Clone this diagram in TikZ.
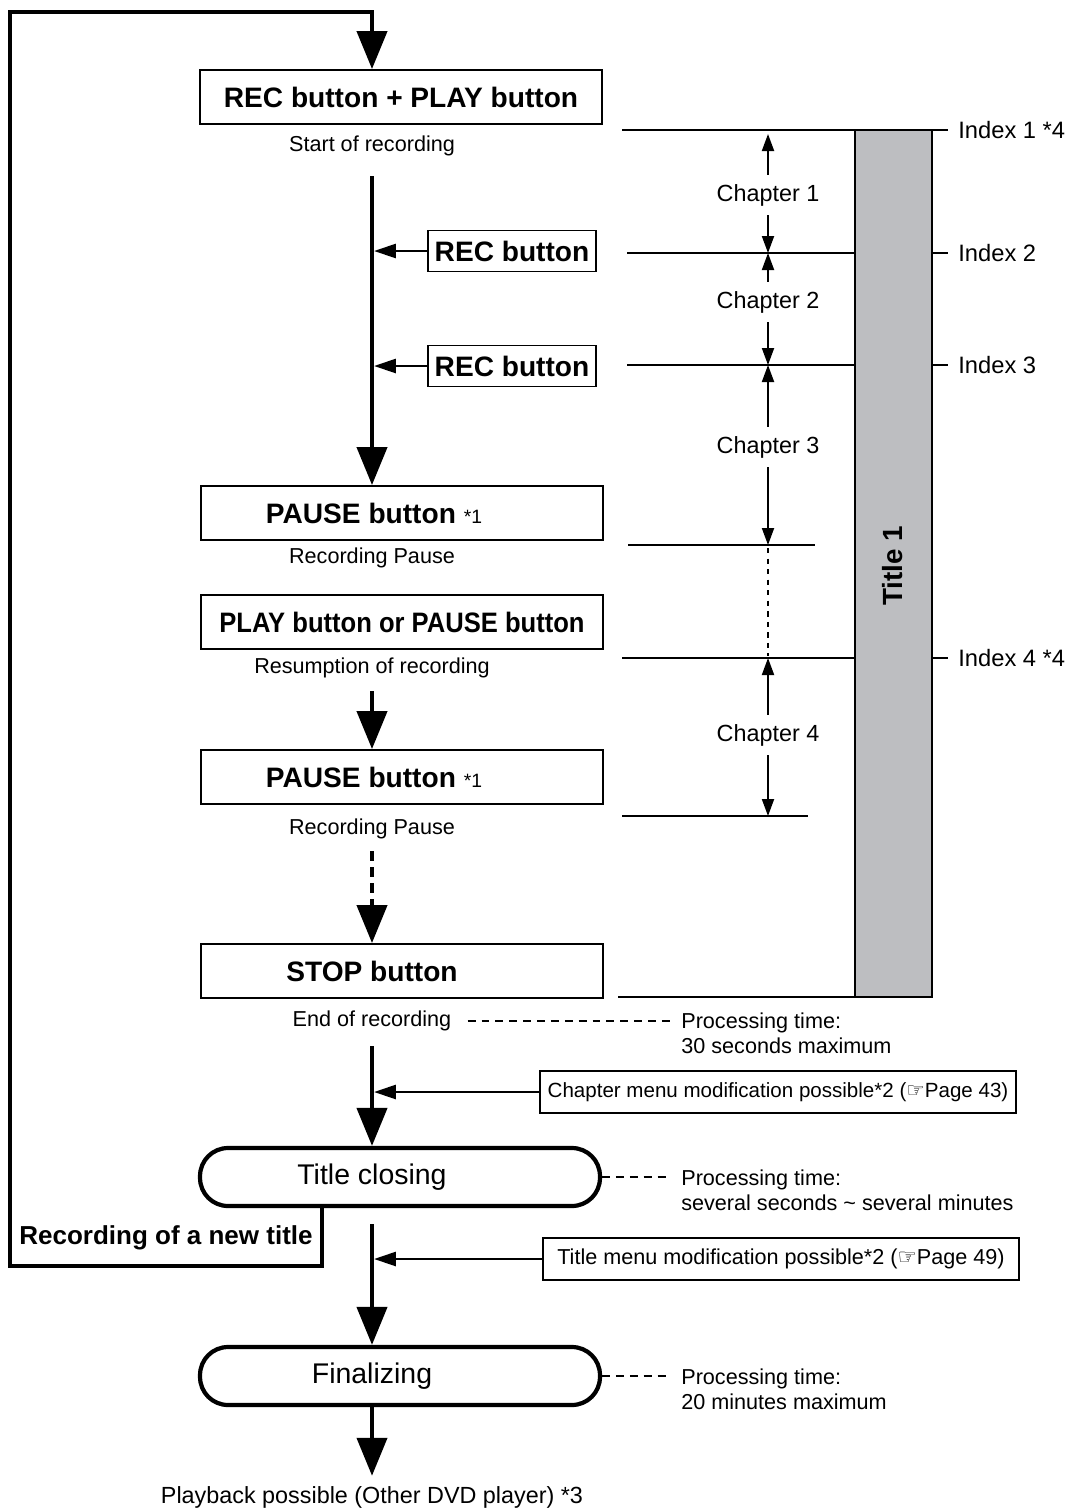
\documentclass[tikz,border=0pt]{standalone}
\usepackage{fontspec}
\setmainfont{Liberation Sans}
\newfontfamily\handfont{DejaVu Sans}
\newfontfamily\narrowbf{Liberation Sans Bold}[FakeStretch=0.91]
\usetikzlibrary{arrows.meta,positioning}

\definecolor{barfill}{HTML}{BDBEC1}

\tikzset{
  btn/.style={draw, line width=1.1pt, minimum width=8.04cm, minimum height=1.08cm,
    inner sep=0pt, font=\fontsize{16}{18}\selectfont\bfseries},
  smallbtn/.style={btn, minimum width=3.36cm, minimum height=0.82cm},
  btnlbl/.style={inner sep=0pt, font=\fontsize{16}{18}\selectfont\bfseries},
  stage/.style={draw, line width=2.4pt, rounded corners=0.56cm, minimum width=8cm,
    minimum height=1.16cm},
  stagelbl/.style={inner sep=0pt, font=\fontsize{16.2}{18}\selectfont},
  menu/.style={draw, line width=1.1pt, minimum width=9.54cm, minimum height=0.84cm,
    inner sep=0pt, font=\fontsize{12.3}{14}\selectfont},
  note/.style={inner sep=0pt, font=\fontsize{12.3}{14.2}\selectfont},
  idxlbl/.style={inner sep=0pt, anchor=west, font=\fontsize{13.5}{15}\selectfont},
  chaplbl/.style={inner xsep=0pt, inner ysep=5pt, font=\fontsize{13.3}{15}\selectfont},
  flow/.style={line width=2.4pt, -{Triangle[width=0.6cm,length=0.76cm]}},
  pushed/.style={line width=1.6pt, -{Triangle[width=0.28cm,length=0.44cm]}},
  level/.style={line width=1.1pt},
  chaparrow/.style={line width=1.1pt, -{Triangle[width=0.24cm,length=0.34cm]}},
  gap/.style={line width=0.9pt, dash pattern=on 4.5pt off 3.4pt},
}

\begin{document}
\begin{tikzpicture}[x=0.02cm, y=-0.02cm]
    \useasboundingbox (0,0) rectangle (1072,1512);

    % -----------------------------------------------------
    % 1) Buttons and states of the recording
    % -----------------------------------------------------
    \coordinate (f0) at (372,0);
    \node[btn] (recplay) at (401,97) {REC button + PLAY button};
    \node[note] (start) at (372,146) {Start of recording};
    \node[smallbtn] (rec1) at (512,251) {REC button};
    \node[smallbtn] (rec2) at (512,366) {REC button};

    \node[btn] (pause1) at (402,513) {};
    \node[btnlbl] (pause1lbl) at (374,513) {PAUSE button {\mdseries\fontsize{11}{12}\selectfont *1}};
    \node[note] (pausing1) at (372,558) {Recording Pause};

    \node[btn, font=\fontsize{16}{18}\selectfont\narrowbf] (resume) at (402,622) {PLAY button or PAUSE button};
    \node[note] (resuming) at (372,668) {Resumption of recording};

    \node[btn] (pause2) at (402,777) {};
    \node[btnlbl] (pause2lbl) at (374,777) {PAUSE button {\mdseries\fontsize{11}{12}\selectfont *1}};
    \node[note] (pausing2) at (372,829) {Recording Pause};

    \node[btn] (stop) at (402,971) {};
    \node[btnlbl] (stoplbl) at (372,971) {STOP button};
    \node[note] (end) at (372,1021) {End of recording};

    \node[menu] (chmenu) at (778,1092) {\fontsize{11.7}{14}\selectfont Chapter menu modification possible*2 ({\handfont ☞}Page 43)};
    \node[stage] (closing) at (400,1177) {};
    \node[stagelbl] (closinglbl) at (372,1177) {Title closing};
    \node[menu] (tmenu) at (781,1259) {Title menu modification possible*2 ({\handfont ☞}Page 49)};
    \node[stage] (final) at (400,1376) {};
    \node[stagelbl] (finallbl) at (372,1376) {Finalizing};
    \node[note, font=\fontsize{13.3}{15}\selectfont] (playback) at (372,1497) {Playback possible (Other DVD player) *3};

    \node[inner sep=0pt, font=\fontsize{14.8}{16}\selectfont\bfseries] (newtitle) at (166,1238) {Recording of a new title};

    % -----------------------------------------------------
    % 2) Processing times
    % -----------------------------------------------------
    \node[note, align=left, anchor=west] (ptime1) at (681,1033.5) {Processing time:\\30 seconds maximum};
    \node[note, align=left, anchor=west] (ptime2) at (681,1190.5) {Processing time:\\several seconds \char`\~{} several minutes};
    \node[note, align=left, anchor=west] (ptime3) at (681,1389.5) {Processing time:\\20 minutes maximum};

    \draw[gap] ([xshift=0.32cm]end.east) -- ([xshift=-0.22cm]end.east -| ptime1.west);
    \draw[gap] (closing.east) -- ([xshift=-0.22cm]closing.east -| ptime2.west);
    \draw[gap] (final.east) -- ([xshift=-0.22cm]final.east -| ptime3.west);

    % -----------------------------------------------------
    % 3) Main flow
    % -----------------------------------------------------
    \coordinate (loopr) at (322,1266);
    \coordinate (loopl) at (10,1266);
    \coordinate (loopt) at (10,12);
    \draw[flow] (closing.south -| loopr) -- (loopr) -- (loopl) -- (loopt) -- (loopt -| f0) -- (recplay.north -| f0);

    \draw[flow, shorten <=0.4cm] (start.south) -- (start.south |- pause1.north);
    \draw[pushed, shorten >=0.04cm] (rec1.west) -- (rec1.west -| f0);
    \draw[pushed, shorten >=0.04cm] (rec2.west) -- (rec2.west -| f0);
    \draw[flow, shorten <=0.26cm] (resuming.south) -- (resuming.south |- pause2.north);
    \draw[flow, shorten <=0.24cm, dash pattern=on 0.2cm off 0.12cm] (pausing2.south) -- (pausing2.south |- stop.north);
    \draw[flow, shorten <=0.3cm] (end.south) -- (end.south |- closing.north);
    \draw[pushed, shorten >=0.04cm] (chmenu.west) -- (chmenu.west -| f0);
    \draw[flow, shorten <=0.32cm] (closing.south -| f0) -- (final.north -| f0);
    \draw[pushed, shorten >=0.04cm] (tmenu.west) -- (tmenu.west -| f0);
    \draw[flow, shorten >=0.2cm] (final.south -| playback) -- (playback.north);

    % -----------------------------------------------------
    % 4) Index marks, chapters and title bar
    % -----------------------------------------------------
    \node[idxlbl] (ix1) at (958,130) {Index 1 *4};
    \node[idxlbl] (ix2) at (958,253) {Index 2};
    \node[idxlbl] (ix3) at (958,365) {Index 3};
    \node[idxlbl] (ix4) at (958,658) {Index 4 *4};

    \draw[level, shorten >=0.2cm] (622,130) -- (ix1.west);
    \draw[level, shorten >=0.2cm] (627,253) -- (ix2.west);
    \draw[level, shorten >=0.2cm] (627,365) -- (ix3.west);
    \draw[level, shorten >=0.2cm] (622,658) -- (ix4.west);
    \draw[level] (628,545) -- (815,545);
    \draw[level] (622,816) -- (808,816);
    \draw[level] (618,997) -- (932,997);

    \filldraw[fill=barfill, line width=1.1pt] (855,130) rectangle (932,997);
    \node[rotate=90, font=\fontsize{15.8}{17}\selectfont\bfseries] (title) at (893,566) {Title 1};

    \node[chaplbl] (ch1) at (768,195) {Chapter 1};
    \node[chaplbl] (ch2) at (768,302) {Chapter 2};
    \node[chaplbl] (ch3) at (768,447) {Chapter 3};
    \node[chaplbl] (ch4) at (768,735) {Chapter 4};

    \draw[chaparrow] (ch1.north) -- (768,134);
    \draw[chaparrow] (ch1.south) -- (768,253);
    \draw[chaparrow] (ch2.north) -- (768,253);
    \draw[chaparrow] (ch2.south) -- (768,365);
    \draw[chaparrow] (ch3.north) -- (768,365);
    \draw[chaparrow] (ch3.south) -- (768,545);
    \draw[line width=1pt, dash pattern=on 3pt off 3pt] (768,548) -- (768,656);
    \draw[chaparrow] (ch4.north) -- (768,658);
    \draw[chaparrow] (ch4.south) -- (768,816);

\end{tikzpicture}
\end{document}
